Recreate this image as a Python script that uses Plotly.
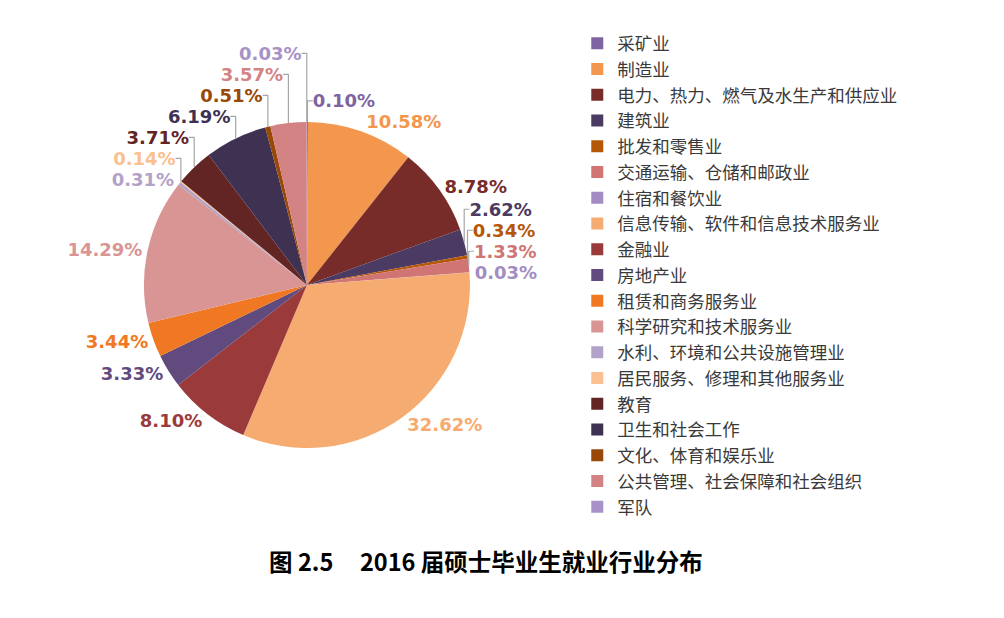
import plotly.graph_objects as go

industries = [
    "采矿业", "制造业", "电力、热力、燃气及水生产和供应业", "建筑业", "批发和零售业",
    "交通运输、仓储和邮政业", "住宿和餐饮业", "信息传输、软件和信息技术服务业", "金融业",
    "房地产业", "租赁和商务服务业", "科学研究和技术服务业", "水利、环境和公共设施管理业",
    "居民服务、修理和其他服务业", "教育", "卫生和社会工作", "文化、体育和娱乐业",
    "公共管理、社会保障和社会组织", "军队",
]
shares = [0.10, 10.58, 8.78, 2.62, 0.34, 1.33, 0.03, 32.62, 8.10, 3.33, 3.44,
          14.29, 0.31, 0.14, 3.71, 6.19, 0.51, 3.57, 0.03]
colors = ["#8064A2", "#F3964E", "#772C2A", "#4B3A62", "#B65708", "#D07474", "#A28DC3",
          "#F6AB70", "#9B3A3A", "#614A7D", "#F07822", "#D99594", "#B3A2C7", "#FAC08F",
          "#632523", "#3F3151", "#984807", "#D38383", "#A692C6"]
labels_txt = [f"{v:.2f}%" for v in shares]

fig = go.Figure(go.Pie(
    labels=industries,
    values=shares,
    text=labels_txt,
    textinfo="text",
    textposition="outside",
    sort=False,
    direction="clockwise",
    rotation=0,
    marker=dict(colors=colors, line=dict(color="#FFFFFF", width=0)),
    outsidetextfont=dict(family="DejaVu Sans", size=18, color=colors, weight="bold"),
    domain=dict(x=[0.1354, 0.4601], y=[0.288, 0.8155]),
    hoverinfo="label+percent",
))

fig.update_layout(
    width=1004,
    height=618,
    margin=dict(l=0, r=0, t=0, b=0),
    paper_bgcolor="white",
    showlegend=True,
    legend=dict(
        x=0.567, y=0.972, xanchor="left", yanchor="top",
        font=dict(family="Noto Sans CJK SC", size=17.5, color="#3A3A3A"),
        bgcolor="rgba(0,0,0,0)",
    ),
    title=dict(
        text="<b>图 2.5\u00a0\u00a0\u00a0\u00a0\u00a02016 届硕士毕业生就业行业分布</b>",
        x=0.476, xanchor="center",
        y=1 - 555 / 618, yanchor="middle",
        font=dict(family="Noto Sans CJK SC", size=23.5, color="#000000"),
    ),
)

# leader lines: thin grey like the original
fix_lines = """
var gd = document.getElementById('{plot_id}');
function fixLines() {
  gd.querySelectorAll('path.textline').forEach(function (p) {
    p.style.stroke = '#A6A6A6';
    p.style.strokeWidth = '1.2px';
  });
}
fixLines();
gd.on('plotly_afterplot', fixLines);
"""

fig.write_html("out.html", post_script=fix_lines)
